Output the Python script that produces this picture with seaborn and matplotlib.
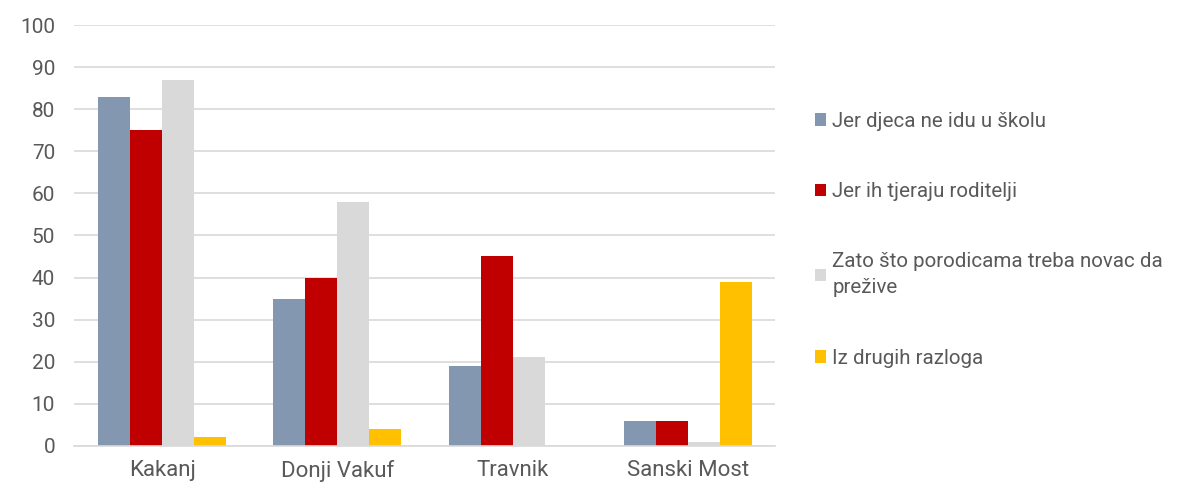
import pandas as pd
import matplotlib.pyplot as plt
import seaborn as sns

# Data
places = ["Kakanj", "Donji Vakuf", "Travnik", "Sanski Most"]
series = [
    "Jer djeca ne idu u školu",
    "Jer ih tjeraju roditelji",
    "Zato što porodicama treba novac da\nprežive",
    "Iz drugih razloga",
]
skola = [83, 35, 19, 6]
roditelji = [75, 40, 45, 6]
novac = [87, 58, 21, 1]
drugo = [2, 4, 0, 39]
colors = ["#8497B0", "#C00000", "#D9D9D9", "#FFC000"]

rows = []
for name, vals in zip(series, [skola, roditelji, novac, drugo]):
    for place, v in zip(places, vals):
        rows.append({"place": place, "reason": name, "value": v})
df = pd.DataFrame(rows)

sns.set_style("white")
plt.rcParams["font.family"] = ["Roboto", "DejaVu Sans"]

fig = plt.figure(figsize=(11.82, 4.91), dpi=100)
ax = fig.add_axes([0.063, 0.092, 0.593, 0.857])

sns.barplot(data=df, x="place", y="value", hue="reason", palette=colors,
            width=0.73, gap=0, saturation=1, linewidth=0, ax=ax)

ax.set_ylim(0, 100)
ax.set_yticks(range(0, 101, 10))
ax.set_xlabel("")
ax.set_ylabel("")
ax.yaxis.grid(True, color="#D9D9D9", linewidth=1.2)
ax.set_axisbelow(True)
for side in ["top", "right", "left"]:
    ax.spines[side].set_visible(False)
ax.spines["bottom"].set_color("#D9D9D9")
ax.spines["bottom"].set_linewidth(1.2)
ax.tick_params(axis="both", length=0, colors="#595959")
ax.tick_params(axis="y", labelsize=15, pad=14)
ax.tick_params(axis="x", labelsize=16, pad=10)

handles, labels = ax.get_legend_handles_labels()
leg = ax.legend(handles, labels, loc="center left", bbox_to_anchor=(1.03, 0.49),
                frameon=False, fontsize=14.8, labelcolor="#595959",
                handlelength=0.55, handleheight=0.55, handletextpad=0.3,
                labelspacing=2.5)
for t in leg.get_texts():
    t.set_linespacing(1.45)

fig.savefig("out.png", dpi=100)
